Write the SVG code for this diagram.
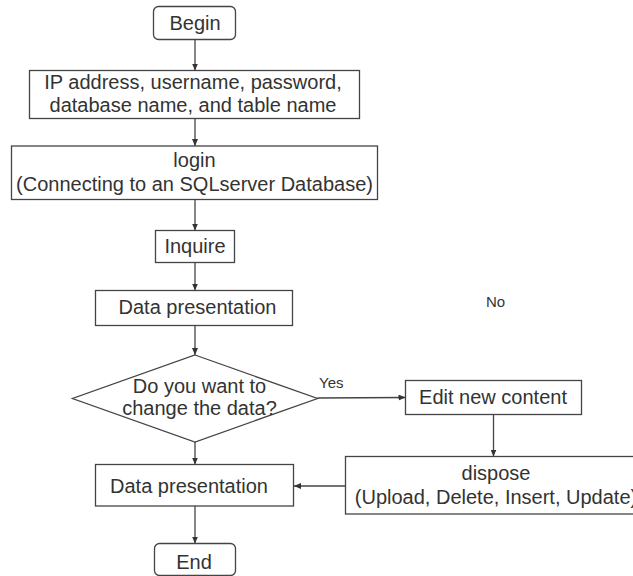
<svg xmlns="http://www.w3.org/2000/svg" width="633" height="576" viewBox="0 0 633 576">
<defs>
<marker id="arr" markerUnits="userSpaceOnUse" markerWidth="7" markerHeight="6" refX="7" refY="3" orient="auto">
<path d="M0,0 L7,3 L0,6 z" fill="#333"/>
</marker>
<style>
.box{fill:#fff;stroke:#444;stroke-width:1.3}
.t{font-family:"Liberation Sans",Arial,sans-serif;font-size:20px;fill:#333;text-anchor:middle}
.s{font-family:"Liberation Sans",Arial,sans-serif;font-size:15px;fill:#333}
.c{fill:none;stroke:#444;stroke-width:1.3;marker-end:url(#arr)}
</style>
</defs>
<rect width="633" height="576" fill="#fff"/>
<g id="connectors">
<line class="c" x1="195" y1="39.5" x2="195" y2="70.5"/>
<line class="c" x1="195" y1="118.5" x2="195" y2="146"/>
<line class="c" x1="195" y1="199.5" x2="195" y2="230.5"/>
<line class="c" x1="195" y1="262.5" x2="195" y2="290.5"/>
<line class="c" x1="195" y1="325.5" x2="195" y2="355"/>
<line class="c" x1="317.5" y1="398" x2="405.5" y2="397.5"/>
<line class="c" x1="493.5" y1="414.5" x2="493.5" y2="456.5"/>
<line class="c" x1="345.5" y1="486" x2="294" y2="486"/>
<line class="c" x1="195" y1="442" x2="195" y2="464.5"/>
<line class="c" x1="195" y1="506" x2="195" y2="543.5"/>
</g>
<g id="begin">
<rect class="box" x="153.5" y="6.5" width="82" height="33" rx="5"/>
<text class="t" x="195" y="29.5">Begin</text>
</g>
<g id="input">
<rect class="box" x="29.5" y="70.5" width="330" height="48"/>
<text class="t" x="193" y="89">IP address, username, password,</text>
<text class="t" x="193" y="112">database name, and table name</text>
</g>
<g id="login">
<rect class="box" x="11.5" y="146" width="366" height="53.5"/>
<text class="t" x="194.5" y="166.5">login</text>
<text class="t" x="194.5" y="191">(Connecting to an SQLserver Database)</text>
</g>
<g id="inquire">
<rect class="box" x="155.5" y="230.5" width="79" height="32"/>
<text class="t" x="195" y="253">Inquire</text>
</g>
<g id="present1">
<rect class="box" x="95.5" y="290.5" width="197" height="35"/>
<text class="t" x="197.5" y="314">Data presentation</text>
</g>
<g id="decision">
<polygon class="box" points="195,355 317.5,398.5 195,442 72.5,398.5"/>
<text class="t" x="199.5" y="392.5">Do you want to</text>
<text class="t" x="199.5" y="414.5">change the data?</text>
</g>
<g id="labels">
<text class="s" x="319" y="388">Yes</text>
<text class="s" x="486" y="307">No</text>
</g>
<g id="edit">
<rect class="box" x="405.5" y="380.5" width="176" height="34"/>
<text class="t" x="493" y="404">Edit new content</text>
</g>
<g id="dispose">
<rect class="box" x="345.5" y="456.5" width="302" height="57.5"/>
<text class="t" x="496" y="479.5">dispose</text>
<text class="t" x="496" y="503.5">(Upload, Delete, Insert, Update)</text>
</g>
<g id="present2">
<rect class="box" x="95.5" y="464.5" width="198" height="41.5"/>
<text class="t" x="189" y="492.5">Data presentation</text>
</g>
<g id="end">
<rect class="box" x="154.5" y="543.5" width="81" height="32" rx="5"/>
<text class="t" x="194" y="569">End</text>
</g>
</svg>
